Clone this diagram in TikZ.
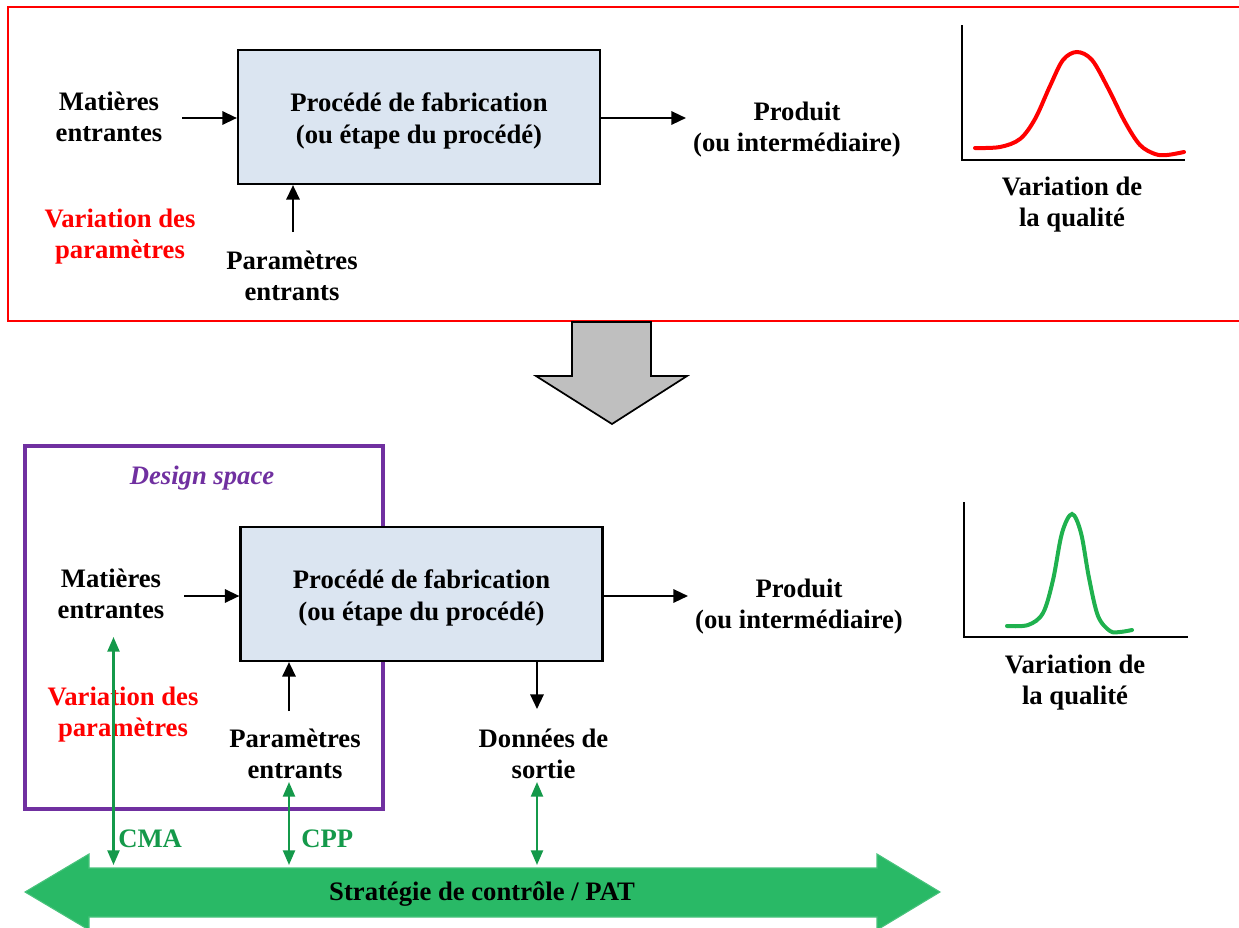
\documentclass[tikz,border=0pt]{standalone}
\usepackage{fontspec}
\setmainfont{Liberation Serif}
\usetikzlibrary{arrows.meta}
\definecolor{procfill}{HTML}{DBE5F1}
\definecolor{framered}{HTML}{FF0000}
\definecolor{dspurple}{HTML}{7030A0}
\definecolor{ctlgreen}{HTML}{29B966}
\definecolor{linkgreen}{HTML}{14994A}
\definecolor{curvegreen}{HTML}{1FB14E}
\definecolor{bigarrowgrey}{HTML}{BFBFBF}
% extra room above the first line of the process boxes
\newcommand{\toproom}{\rule{0pt}{20pt}}
\begin{document}
\begin{tikzpicture}[x=0.75pt,y=-0.75pt,
  lbl/.style={font=\fontsize{20}{23.3}\selectfont\bfseries, align=center, inner sep=0pt},
  redlbl/.style={lbl, text=framered},
  procbox/.style={lbl, draw, line width=1.6pt, fill=procfill,
    minimum width=271.5pt, minimum height=100.5pt},
  arr/.style={line width=1.7pt, -{Triangle[length=11pt,width=10pt]}},
  garr/.style={line width=1.7pt, draw=linkgreen,
    {Triangle[length=11pt,width=9pt]}-{Triangle[length=11pt,width=9pt]}},
  axis/.style={line width=1.7pt, line join=miter},
  curve/.style={line width=3pt, line cap=round, smooth, tension=0.55}]
\clip (0,0) rectangle (1239,928);

% ---------- current process (top frame) ----------
\draw[framered, line width=1.5pt] (8,7) rectangle (1270,321);

\node[procbox] (p1) at (419,117) {\toproom Procédé de fabrication\\(ou étape du procédé)};
\node[lbl] (m1) at (109,117) {Matières\\entrantes};
\node[redlbl] (v1) at (120,237) {Variation des\\paramètres};
\node[lbl] (e1) at (292,276) {Paramètres\\entrants};
\node[lbl] (o1) at (797,130) {Produit\\(ou intermédiaire)};
\node[lbl] (q1) at (1072,205) {Variation de\\la qualité};

\coordinate (a1) at (182,118);
\coordinate (b1) at (293,232);
\coordinate (c1) at (686,118);
\draw[arr] (a1) -- (a1 -| p1.west);
\draw[arr] (b1) -- (b1 |- p1.south);
\draw[arr] (c1 -| p1.east) -- (c1);

\coordinate (ax1) at (962,25);
\coordinate (or1) at (962,160);
\coordinate (ex1) at (1185,160);
\draw[axis] (ax1) -- (or1) -- (ex1);
\draw[curve, framered] plot coordinates {(975,148) (1000,147) (1020,139) (1035,119)
  (1050,86) (1063,60) (1077,52) (1092,60) (1108,88) (1125,122) (1140,145)
  (1155,154) (1167,155) (1184,152)};

% ---------- transition arrow ----------
\draw[fill=bigarrowgrey, line width=1.3pt, line join=miter]
  (572,322) -- (651,322) -- (651,376) -- (687,376) -- (612,424)
  -- (536,376) -- (572,376) -- cycle;

% ---------- controlled process (bottom) ----------
\draw[dspurple, line width=2.6pt] (25,446) rectangle (383,809);
\node[lbl, text=dspurple, font=\fontsize{20}{23.3}\selectfont\bfseries\itshape]
  (ds) at (202,478) {Design space};

\node[procbox] (p2) at (421.5,594) {\toproom Procédé de fabrication\\(ou étape du procédé)};
\node[lbl] (m2) at (111,594) {Matières\\entrantes};
\node[redlbl] (v2) at (123,715) {Variation des\\paramètres};
\node[lbl] (e2) at (295,754) {Paramètres\\entrants};
\node[lbl] (d2) at (543.5,754) {Données de\\sortie};
\node[lbl] (o2) at (799,607) {Produit\\(ou intermédiaire)};
\node[lbl] (q2) at (1075,683) {Variation de\\la qualité};

\coordinate (a2) at (184,596);
\coordinate (b2) at (289,711);
\coordinate (c2) at (688,596);
\coordinate (d2top) at (537,709);
\draw[arr] (a2) -- (a2 -| p2.west);
\draw[arr] (b2) -- (b2 |- p2.south);
\draw[arr] (c2 -| p2.east) -- (c2);
\draw[arr] (d2top |- p2.south) -- (d2top);

\coordinate (ax2) at (964,502);
\coordinate (or2) at (964,637);
\coordinate (ex2) at (1188,637);
\draw[axis] (ax2) -- (or2) -- (ex2);
\draw[curve, curvegreen] plot coordinates {(1007,626) (1028,625) (1043,613)
  (1053,580) (1062,533) (1072,514) (1081,533) (1089,578) (1098,616)
  (1110,631) (1120,632) (1132,630)};

% control strategy band
\draw[fill=ctlgreen, draw=ctlgreen!85!white, line width=0.8pt, line join=miter]
  (25,892) -- (89,854) -- (89,868) -- (877,868) -- (877,854) -- (940,892)
  -- (877,930) -- (877,917) -- (89,917) -- (89,930) -- cycle;
\node[lbl, anchor=base] (pat) at (482,900) {Stratégie de contrôle / PAT};

% links to the control strategy
\coordinate (g1t) at (113.5,637);
\coordinate (g1b) at (113.5,865);
\coordinate (g2t) at (289,782);
\coordinate (g2b) at (289,865);
\coordinate (g3t) at (537,782);
\coordinate (g3b) at (537,865);
\draw[garr] (g1t) -- (g1b);
\draw[garr] (g2t) -- (g2b);
\draw[garr] (g3t) -- (g3b);
\node[lbl, text=linkgreen, anchor=base west] (cma) at (118,847) {CMA};
\node[lbl, text=linkgreen, anchor=base west] (cpp) at (301,847) {CPP};
\end{tikzpicture}
\end{document}
